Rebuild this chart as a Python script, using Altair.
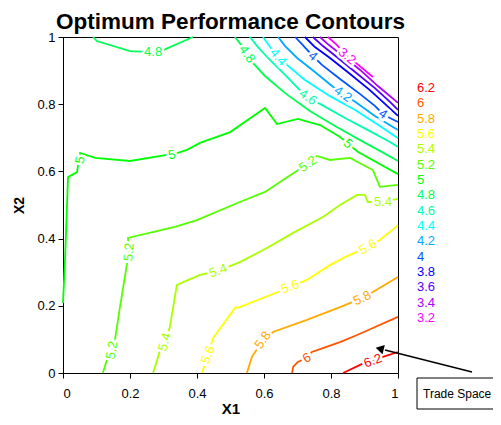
import altair as alt
import pandas as pd

LEVELS = ["6.2", "6", "5.8", "5.6", "5.4", "5.2", "5", "4.8", "4.6", "4.4",
          "4.2", "4", "3.8", "3.6", "3.4", "3.2"]
COLORS = ["#ff0000", "#ff5500", "#ffaa00", "#ffff00", "#aaff00", "#55ff00",
          "#00ff00", "#00ff55", "#00ffaa", "#00ffff", "#00aaff", "#0055ff",
          "#0000ff", "#5500ff", "#aa00ff", "#ff00ff"]
TITLE = "Optimum Performance Contours"

# contour polylines, data coordinates (X1, X2)
C62_X = [0.836, 0.893, 0.925, 0.955, 1.0]
C62_Y = [0.0, 0.027, 0.036, 0.048, 0.0625]

C60_X = [0.684, 0.687, 0.701, 0.728, 0.743, 0.776, 0.827, 0.878, 0.925, 1.0]
C60_Y = [0.0, 0.018, 0.033, 0.045, 0.0625, 0.074, 0.092, 0.113, 0.134, 0.167]

C58_X = [0.549, 0.564, 0.597, 0.627, 0.728, 0.827, 0.893, 0.925, 1.0]
C58_Y = [0.0, 0.048, 0.098, 0.122, 0.158, 0.196, 0.223, 0.241, 0.286]

C56_X = [0.415, 0.433, 0.448, 0.513, 0.528, 0.657, 0.678, 0.728, 0.797, 0.842,
         0.910, 0.946, 1.0]
C56_Y = [0.0, 0.054, 0.104, 0.193, 0.196, 0.247, 0.256, 0.277, 0.321, 0.345,
         0.375, 0.396, 0.440]

C54_X = [0.269, 0.290, 0.304, 0.319, 0.340, 0.409, 0.463, 0.528, 0.609, 0.687,
         0.776, 0.827, 0.878, 0.901, 0.910, 0.925, 0.955, 1.0]
C54_Y = [0.0, 0.068, 0.092, 0.137, 0.262, 0.292, 0.304, 0.330, 0.372, 0.417,
         0.464, 0.5, 0.530, 0.530, 0.509, 0.509, 0.509, 0.518]

C52_X = [0.119, 0.134, 0.146, 0.155, 0.170, 0.188, 0.197, 0.194, 0.334, 0.4,
         0.528, 0.603, 0.693, 0.731, 0.758, 0.797, 0.857, 0.925, 0.946, 1.0]
C52_Y = [0.0, 0.048, 0.068, 0.098, 0.196, 0.307, 0.360, 0.402, 0.435, 0.455,
         0.509, 0.539, 0.598, 0.622, 0.646, 0.634, 0.640, 0.604, 0.554, 0.560]

C50_X = [0.0, 0.006, 0.015, 0.042, 0.045, 0.051, 0.051, 0.096, 0.2, 0.310,
         0.325, 0.370, 0.409, 0.499, 0.603, 0.639, 0.701, 0.767, 0.824, 0.851,
         0.881, 0.940, 1.0]
C50_Y = [0.208, 0.336, 0.583, 0.598, 0.619, 0.634, 0.655, 0.640, 0.631, 0.649,
         0.649, 0.664, 0.685, 0.717, 0.789, 0.741, 0.756, 0.738, 0.705, 0.682,
         0.658, 0.625, 0.592]

C48A_X = [0.090, 0.101, 0.2, 0.269, 0.299, 0.388]
C48A_Y = [1.0, 0.988, 0.958, 0.955, 0.961, 1.0]

C48B_X = [0.513, 0.537, 0.549, 0.564, 0.603, 0.663, 0.737, 0.812, 0.887, 0.946, 1.0]
C48B_Y = [1.0, 0.970, 0.949, 0.926, 0.884, 0.833, 0.780, 0.735, 0.693, 0.661, 0.631]

C46_X = [0.558, 0.582, 0.612, 0.663, 0.707, 0.731, 0.767, 0.842, 0.916, 0.976, 1.0]
C46_Y = [1.0, 0.970, 0.9375, 0.887, 0.842, 0.821, 0.801, 0.759, 0.720, 0.6875, 0.673]

C44_X = [0.597, 0.618, 0.642, 0.672, 0.722, 0.797, 0.872, 0.946, 1.0]
C44_Y = [1.0, 0.970, 0.940, 0.914, 0.872, 0.824, 0.783, 0.735, 0.699]

C42_X = [0.642, 0.663, 0.699, 0.752, 0.803, 0.836, 0.872, 0.931, 1.0]
C42_Y = [1.0, 0.973, 0.9375, 0.896, 0.854, 0.830, 0.807, 0.765, 0.723]

C40_X = [0.693, 0.716, 0.746, 0.773, 0.827, 0.887, 0.931, 0.955, 0.976, 1.0]
C40_Y = [1.0, 0.976, 0.943, 0.917, 0.875, 0.830, 0.795, 0.771, 0.759, 0.747]

C38_X = [0.722, 0.752, 0.797, 0.857, 0.916, 0.961, 1.0]
C38_Y = [1.0, 0.970, 0.9375, 0.890, 0.842, 0.801, 0.765]

C36_X = [0.746, 0.776, 0.821, 0.872, 0.931, 0.976, 1.0]
C36_Y = [1.0, 0.973, 0.9375, 0.896, 0.848, 0.807, 0.783]

C34_X = [0.767, 0.794, 0.836, 0.887, 0.940, 1.0]
C34_Y = [1.0, 0.976, 0.943, 0.902, 0.854, 0.804]

C32_X = [0.791, 0.818, 0.848, 0.878, 0.925]
C32_Y = [1.0, 0.976, 0.943, 0.920, 0.881]

SEGMENTS = [
    ("6.2", C62_X, C62_Y), ("6", C60_X, C60_Y), ("5.8", C58_X, C58_Y),
    ("5.6", C56_X, C56_Y), ("5.4", C54_X, C54_Y), ("5.2", C52_X, C52_Y),
    ("5", C50_X, C50_Y), ("4.8", C48A_X, C48A_Y), ("4.8", C48B_X, C48B_Y),
    ("4.6", C46_X, C46_Y), ("4.4", C44_X, C44_Y), ("4.2", C42_X, C42_Y),
    ("4", C40_X, C40_Y), ("3.8", C38_X, C38_Y), ("3.6", C36_X, C36_Y),
    ("3.4", C34_X, C34_Y), ("3.2", C32_X, C32_Y),
]

# contour labels
LABEL_TEXT = ["6.2", "6", "5.8", "5.8", "5.6", "5.6", "5.6", "5.4", "5.4", "5.4",
              "5.2", "5.2", "5.2", "5", "5", "5", "4.8", "4.8", "4.6", "4.4",
              "4.2", "4", "4", "3.2"]
LABEL_X = [0.925, 0.728, 0.597, 0.893, 0.433, 0.678, 0.910, 0.304, 0.463, 0.955,
           0.146, 0.197, 0.731, 0.051, 0.325, 0.851, 0.269, 0.549, 0.731, 0.642,
           0.836, 0.746, 0.955, 0.848]
LABEL_Y = [0.036, 0.045, 0.098, 0.223, 0.054, 0.256, 0.375, 0.092, 0.304, 0.509,
           0.068, 0.360, 0.622, 0.634, 0.649, 0.682, 0.955, 0.949, 0.821, 0.940,
           0.830, 0.943, 0.771, 0.943]
LABEL_ANGLE = [340, 330, 305, 335, 290, 340, 330, 285, 340, 0,
               280, 275, 325, 280, 350, 40, 0, 55, 35, 50,
               35, 40, 35, 40]

rows = []
for i, (lev, xs, ys) in enumerate(SEGMENTS):
    for j, (x, y) in enumerate(zip(xs, ys)):
        rows.append({"seg": i, "level": lev, "ord": j, "x": x, "y": y})
lines_df = pd.DataFrame(rows)
labels_df = pd.DataFrame({"level": LABEL_TEXT, "x": LABEL_X, "y": LABEL_Y,
                          "angle": LABEL_ANGLE})
legend_df = pd.DataFrame({"level": LEVELS})

FONT = "Liberation Sans"
xscale = alt.Scale(domain=[0, 1], nice=False)
yscale = alt.Scale(domain=[0, 1], nice=False)
cscale = alt.Scale(domain=LEVELS, range=COLORS)

xaxis = alt.Axis(values=[0, 0.2, 0.4, 0.6, 0.8, 1], format="~g", title="X1",
                 grid=False, tickSize=5, tickColor="black", domainColor="black",
                 labelColor="black", labelFont=FONT, labelFontSize=13,
                 labelPadding=9, titleFont=FONT, titleFontSize=15,
                 titleFontWeight="bold", titleColor="black", titlePadding=1)
yaxis = alt.Axis(values=[0, 0.2, 0.4, 0.6, 0.8, 1], format="~g", title="X2",
                 grid=False, tickSize=5, tickColor="black", domainColor="black",
                 labelColor="black", labelFont=FONT, labelFontSize=13,
                 labelPadding=3, titleFont=FONT, titleFontSize=14,
                 titleFontWeight="bold", titleColor="black", titlePadding=10)

lines = alt.Chart(lines_df).mark_line(strokeWidth=1.8).encode(
    x=alt.X("x:Q", scale=xscale, axis=xaxis),
    y=alt.Y("y:Q", scale=yscale, axis=yaxis),
    color=alt.Color("level:N", scale=cscale, legend=None),
    detail="seg:N",
    order="ord:Q",
)

halo = alt.Chart(labels_df).mark_text(
    font=FONT, fontSize=13, stroke="white", strokeWidth=5, fill="white"
).encode(
    x=alt.X("x:Q", scale=xscale),
    y=alt.Y("y:Q", scale=yscale),
    text="level:N",
    angle=alt.Angle("angle:Q", scale=None),
)

labels = alt.Chart(labels_df).mark_text(font=FONT, fontSize=13).encode(
    x=alt.X("x:Q", scale=xscale),
    y=alt.Y("y:Q", scale=yscale),
    text="level:N",
    angle=alt.Angle("angle:Q", scale=None),
    color=alt.Color("level:N", scale=cscale, legend=None),
)

one = pd.DataFrame({"k": [0]})
arrow = alt.Chart(one).mark_rule(color="black", strokeWidth=1.5).encode(
    x=alt.value(409), y=alt.value(335), x2=alt.value(322), y2=alt.value(313)
)
head = alt.Chart(one).mark_point(
    shape="triangle", filled=True, color="black", opacity=1, size=90, angle=284
).encode(x=alt.value(318), y=alt.value(312))
box = alt.Chart(one).mark_rect(fill="white", stroke="black", strokeWidth=1).encode(
    x=alt.value(354), x2=alt.value(437.5), y=alt.value(341), y2=alt.value(372)
)
box_text = alt.Chart(one).mark_text(
    text="Trade Space", font=FONT, fontSize=12, align="left", baseline="middle",
    color="black"
).encode(x=alt.value(360), y=alt.value(357))
title = alt.Chart(one).mark_text(
    text=TITLE, font=FONT, fontSize=22.5, fontWeight="bold", align="center",
    baseline="alphabetic", color="black"
).encode(x=alt.value(167.5), y=alt.value(-8.5))

plot = alt.layer(lines, halo, labels, arrow, head, box, box_text, title)

legend = alt.Chart(legend_df).mark_text(
    font=FONT, fontSize=13, align="left", baseline="middle"
).encode(
    y=alt.Y("level:N", scale=alt.Scale(domain=LEVELS, range=[51, 281], padding=0),
            axis=None, sort=LEVELS),
    x=alt.value(354),
    text="level:N",
    color=alt.Color("level:N", scale=cscale, legend=None),
)

chart = alt.layer(plot, legend).resolve_scale(y="independent").properties(
    width=335, height=336,
    autosize=alt.AutoSizeParams(type="none"),
    padding={"left": 55, "top": 29, "right": 95, "bottom": 44},
).configure_view(stroke="black", strokeWidth=1)

chart.save("out.html", embed_options={"renderer": "svg", "actions": False})
